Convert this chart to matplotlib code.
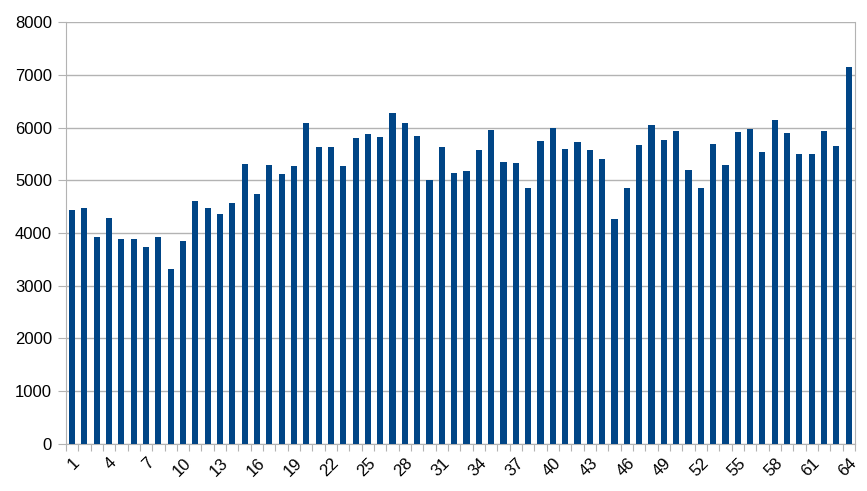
import matplotlib
matplotlib.use("Agg")
import matplotlib.pyplot as plt
import numpy as np

# bar values
labels = list(range(1, 65))
values = [
    4435, 4467, 3924, 4284, 3880, 3893, 3735, 3918, 3325, 3849,
    4612, 4479, 4353, 4574, 5312, 4732, 5281, 5110, 5268, 6088,
    5640, 5640, 5268, 5811, 5874, 5817, 6271, 6088, 5836, 4997,
    5634, 5142, 5174, 5571, 5950, 5350, 5325, 4858, 5754, 5987,
    5584, 5729, 5565, 5394, 4265, 4858, 5678, 6057, 5773, 5943,
    5186, 4858, 5697, 5287, 5924, 5981, 5527, 6151, 5905, 5489,
    5502, 5931, 5659, 7155,
]
yticks = [0, 1000, 2000, 3000, 4000, 5000, 6000, 7000, 8000]

plt.rcParams["font.family"] = ["Liberation Sans", "DejaVu Sans"]

fig = plt.figure(figsize=(8.67, 4.91), dpi=100)
ax = fig.add_axes([0.076, 0.096, 0.910, 0.859])

x = np.arange(len(values))
ax.bar(x, values, width=0.5, color="#004586", zorder=3)

ax.set_xlim(-0.5, len(values) - 0.5)
ax.set_ylim(0, 8000)
ax.set_yticks(yticks)
ax.set_yticklabels([str(t) for t in yticks], fontsize=12)
ax.yaxis.grid(True, color="#b3b3b3", linewidth=1, zorder=0)

# tick marks at category boundaries, labels every third category
ax.set_xticks(np.arange(len(values) + 1) - 0.5)
ax.set_xticklabels([])
ax.set_xticks(x[::3], minor=True)
ax.set_xticklabels([str(labels[i]) for i in x[::3]], minor=True,
                   rotation=45, ha="right", va="top", fontsize=12,
                   rotation_mode="anchor")
ax.tick_params(axis="x", which="major", length=5, color="#b3b3b3")
ax.tick_params(axis="x", which="minor", length=0, pad=8)
ax.tick_params(axis="y", length=6, color="#b3b3b3", pad=4)

for side in ["left", "right", "bottom"]:
    ax.spines[side].set_color("#b3b3b3")
ax.spines["top"].set_visible(False)

fig.savefig("out.png", dpi=100)
